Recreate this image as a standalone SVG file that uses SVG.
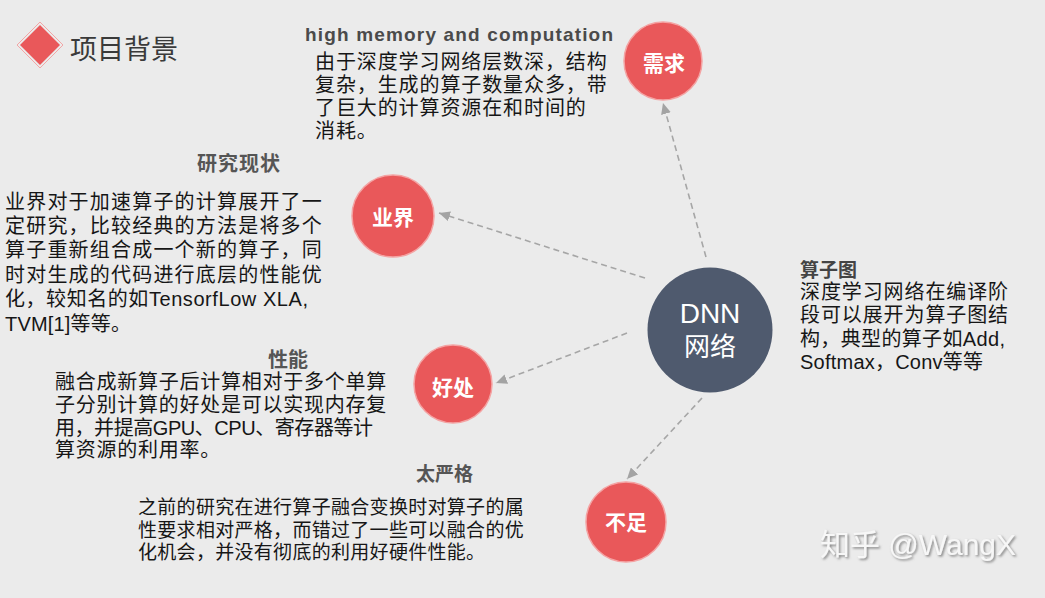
<svg xmlns="http://www.w3.org/2000/svg" width="1045" height="598" viewBox="0 0 1045 598">
<style>
  text { font-family: "Liberation Sans", "Noto Sans CJK SC", sans-serif; }
  .body { font-size: 20px; fill: #161616; letter-spacing: 0.9px; }
  .head { font-size: 19px; font-weight: bold; fill: #4a4a4a; }
  .lbl { font-size: 21px; font-weight: bold; fill: #ffffff; text-anchor: middle; }
  .red { fill: #e9585a; stroke: #f4a3a3; stroke-width: 1.5; }
  .conn { stroke: #a6a6a6; stroke-width: 1.6; stroke-dasharray: 6 4; fill: none; marker-end: url(#arr); }
</style>
<defs>
  <marker id="arr" markerUnits="userSpaceOnUse" markerWidth="12" markerHeight="10" refX="11" refY="5" orient="auto">
    <path d="M0,0 L11,5 L0,10 z" fill="#a3a3a3"/>
  </marker>
  <filter id="shadow" x="-10%" y="-30%" width="120%" height="160%">
    <feDropShadow dx="1.5" dy="1.5" stdDeviation="0.9" flood-color="#7a7a7a" flood-opacity="0.9"/>
  </filter>
</defs>
<rect width="1045" height="598" fill="#ebebeb"/>

<g id="title">
  <path d="M40,22 L63,45 L40,68 L17,45 z" fill="none" stroke="#f2a6a6" stroke-width="1"/>
  <path d="M40,25 L60,45 L40,65 L20,45 z" fill="#e9585a"/>
  <text x="70" y="58.5" style="font-size:27px;fill:#3a3a3a;">项目背景</text>
</g>

<g id="connectors">
  <line class="conn" x1="706" y1="257" x2="663" y2="103"/>
  <line class="conn" x1="645" y1="278" x2="439" y2="213"/>
  <line class="conn" x1="627" y1="333" x2="496" y2="383"/>
  <line class="conn" x1="702" y1="398" x2="627" y2="479"/>
</g>

<g id="node-dnn">
  <circle cx="710" cy="330" r="62.5" fill="#4f5a6e"/>
  <text x="710" y="323" style="font-size:28px;fill:#ffffff;text-anchor:middle;">DNN</text>
  <text x="710" y="356" style="font-size:26px;fill:#ffffff;text-anchor:middle;">网络</text>
</g>

<g id="node-xuqiu">
  <circle class="red" cx="663" cy="61" r="39"/>
  <text class="lbl" x="664" y="71">需求</text>
</g>
<g id="note-xuqiu">
  <text class="head" x="305" y="41" textLength="308" lengthAdjust="spacing">high memory and computation</text>
  <text class="body" x="315" y="68.5">由于深度学习网络层数深，结构</text>
  <text class="body" x="315" y="91.8">复杂，生成的算子数量众多，带</text>
  <text class="body" x="315" y="115">了巨大的计算资源在和时间的</text>
  <text class="body" x="315" y="138">消耗。</text>
</g>

<g id="node-yejie">
  <circle class="red" cx="393" cy="216" r="41"/>
  <text class="lbl" x="393" y="225">业界</text>
</g>
<g id="note-yejie">
  <text class="head" x="197" y="170.5" style="font-size:20px;letter-spacing:1px;fill:#555555;">研究现状</text>
  <text class="body" x="5" y="208.5" style="letter-spacing:1.2px;">业界对于加速算子的计算展开了一</text>
  <text class="body" x="5" y="232.9" style="letter-spacing:1.2px;">定研究，比较经典的方法是将多个</text>
  <text class="body" x="5" y="257.3" style="letter-spacing:1.2px;">算子重新组合成一个新的算子，同</text>
  <text class="body" x="5" y="281.7" style="letter-spacing:1.2px;">时对生成的代码进行底层的性能优</text>
  <text class="body" x="5" y="306.1" style="letter-spacing:0px;" textLength="303" lengthAdjust="spacing">化，较知名的如TensorfLow XLA,</text>
  <text class="body" x="5" y="330.5" style="letter-spacing:0px;" textLength="126" lengthAdjust="spacing">TVM[1]等等。</text>
</g>

<g id="node-haochu">
  <circle class="red" cx="453" cy="384" r="39"/>
  <text class="lbl" x="453" y="395">好处</text>
</g>
<g id="note-haochu">
  <text class="head" x="268" y="366.5" style="font-size:20px;fill:#555555;">性能</text>
  <text class="body" x="55" y="388.5" style="letter-spacing:0.75px;">融合成新算子后计算相对于多个单算</text>
  <text class="body" x="55" y="411.5" style="letter-spacing:0.75px;">子分别计算的好处是可以实现内存复</text>
  <text class="body" x="55" y="434.5" style="letter-spacing:0px;" textLength="318" lengthAdjust="spacing">用，并提高GPU、CPU、寄存器等计</text>
  <text class="body" x="55" y="457" style="letter-spacing:0.75px;">算资源的利用率。</text>
</g>

<g id="node-buzu">
  <circle class="red" cx="626" cy="522" r="40"/>
  <text class="lbl" x="626" y="530">不足</text>
</g>
<g id="note-buzu">
  <text class="head" x="416" y="480.5" style="font-size:19px;fill:#555555;">太严格</text>
  <text class="body" x="138" y="513.5" style="font-size:19px;letter-spacing:0.3px;">之前的研究在进行算子融合变换时对算子的属</text>
  <text class="body" x="138" y="536.5" style="font-size:19px;letter-spacing:0.3px;">性要求相对严格，而错过了一些可以融合的优</text>
  <text class="body" x="138" y="558.5" style="font-size:19px;letter-spacing:0.3px;">化机会，并没有彻底的利用好硬件性能。</text>
</g>

<g id="note-dnn">
  <text class="head" x="800" y="276.5" style="fill:#444444;">算子图</text>
  <text class="body" x="800" y="298.5">深度学习网络在编译阶</text>
  <text class="body" x="800" y="322">段可以展开为算子图结</text>
  <text class="body" x="800" y="345.5" style="letter-spacing:0px;" textLength="205" lengthAdjust="spacing">构，典型的算子如Add,</text>
  <text class="body" x="800" y="369" style="letter-spacing:0px;" textLength="183" lengthAdjust="spacing">Softmax，Conv等等</text>
</g>

<g id="watermark">
  <text x="820" y="554.5" filter="url(#shadow)" style="font-size:30px;fill:#f7f7f7;">知乎 @WangX</text>
</g>
</svg>
